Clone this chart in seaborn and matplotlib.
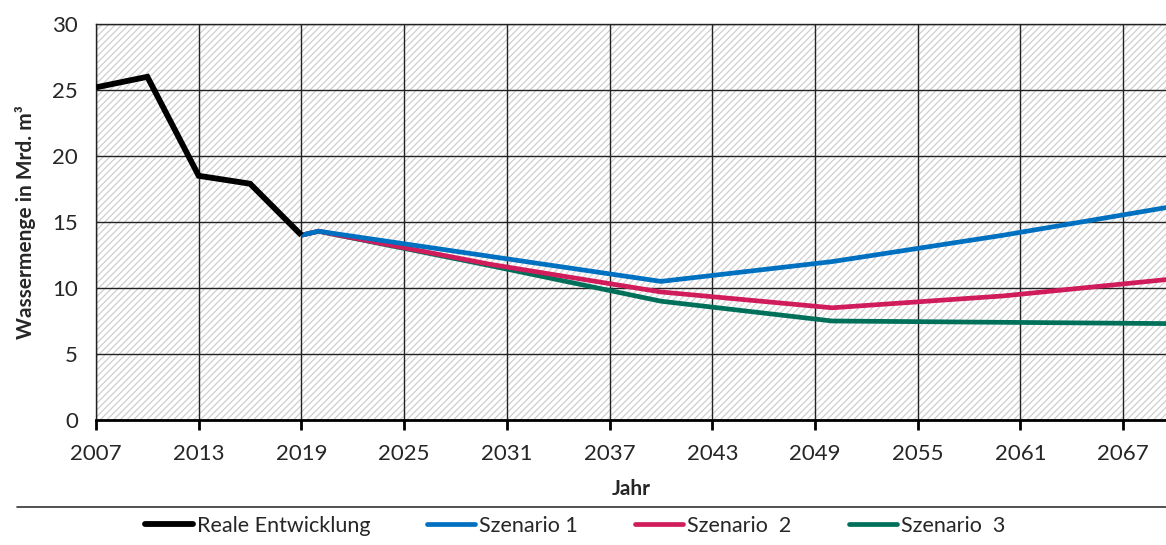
import matplotlib
matplotlib.use("Agg")
import matplotlib.pyplot as plt
from matplotlib.patches import Rectangle
from matplotlib.lines import Line2D
import seaborn as sns
import pandas as pd

# Water volume (billion m³): observed development and three projections
real_years = [2007, 2010, 2013, 2016, 2019]
real_values = [25.2, 26.0, 18.5, 17.9, 14.0]

scen_years = [2019, 2020, 2030, 2040, 2050, 2060, 2070]
scen1_values = [14.0, 14.3, 12.4, 10.5, 12.0, 14.0, 16.2]
scen2_values = [14.0, 14.3, 11.8, 9.7, 8.5, 9.4, 10.7]
scen3_values = [14.0, 14.3, 11.7, 9.0, 7.5, 7.4, 7.3]

series_names = ["Reale Entwicklung", "Szenario 1", "Szenario  2", "Szenario  3"]
series_colors = ["#000000", "#0070C0", "#D01C5B", "#00705A"]
series_widths = [4.2, 3.4, 3.4, 3.4]

x_ticks = list(range(2007, 2068, 6))
y_ticks = [0, 5, 10, 15, 20, 25, 30]

frames = [pd.DataFrame({"Jahr": real_years, "Wert": real_values, "Serie": series_names[0]})]
for name, vals in zip(series_names[1:], [scen1_values, scen2_values, scen3_values]):
    frames.append(pd.DataFrame({"Jahr": scen_years, "Wert": vals, "Serie": name}))
df = pd.concat(frames, ignore_index=True)

sns.set_theme(style="white")
plt.rcParams["font.family"] = ["Lato", "DejaVu Sans"]
plt.rcParams["hatch.linewidth"] = 0.9

fig = plt.figure(figsize=(11.66, 5.45), dpi=100)
ax = fig.add_axes([96 / 1166, 1 - 420 / 545, 1 - 96 / 1166, (420 - 24) / 545])

# hatched plot area
ax.add_patch(Rectangle((0, 0), 1, 1, transform=ax.transAxes, facecolor="white",
                       edgecolor="#cfcfcf", hatch="/////", linewidth=0, zorder=0))

# draw scenarios first, the observed line on top
order = [3, 2, 1, 0]
for i in order:
    sub = df[df["Serie"] == series_names[i]]
    sns.lineplot(data=sub, x="Jahr", y="Wert", ax=ax, color=series_colors[i],
                 linewidth=series_widths[i], legend=False, zorder=3 + (3 - i),
                 solid_joinstyle="miter", solid_capstyle="butt")

ax.set_xlim(2007, 2069.5)
ax.set_ylim(0, 30)
ax.set_xticks(x_ticks)
ax.set_yticks(y_ticks)
ax.set_xticklabels([str(t) for t in x_ticks])
ax.grid(True, color="#222222", linewidth=1.0, zorder=1)
ax.set_axisbelow(False)
for gl in ax.get_xgridlines() + ax.get_ygridlines():
    gl.set_zorder(1)

ax.tick_params(axis="x", direction="out", length=7, width=2, color="black",
               labelsize=16, pad=10, bottom=True)
ax.tick_params(axis="y", length=0, labelsize=16, pad=13)

for side in ["left", "top"]:
    ax.spines[side].set_visible(True)
    ax.spines[side].set_color("#222222")
    ax.spines[side].set_linewidth(1.0)
ax.spines["right"].set_visible(False)
ax.spines["bottom"].set_color("black")
ax.spines["bottom"].set_linewidth(2.0)
ax.spines["bottom"].set_zorder(10)

ax.set_xlabel("Jahr", fontsize=15, fontweight="bold", labelpad=11)
ax.set_ylabel("Wassermenge in Mrd. m³", fontsize=15, fontweight="bold", labelpad=12)

# separator line above the legend
fig.add_artist(Line2D([17 / 1166, 1.0], [1 - 507 / 545] * 2, transform=fig.transFigure,
                      color="#333333", linewidth=1.2))

handles = [Line2D([0], [0], color=c, linewidth=w, solid_capstyle="round")
           for c, w in zip(series_colors, series_widths)]
fig.legend(handles, series_names, loc="center", bbox_to_anchor=(0.493, 1 - 526 / 545),
           ncol=4, frameon=False, fontsize=15.5, handlelength=2.23, handletextpad=0.19,
           columnspacing=2.65)

fig.savefig("out.png", dpi=100)
